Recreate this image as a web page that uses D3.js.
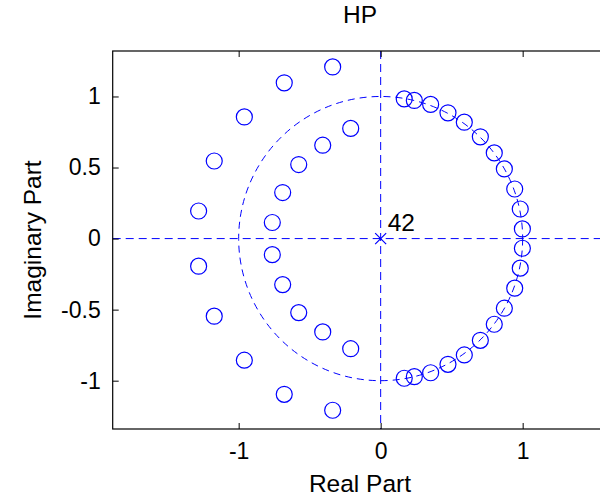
<!DOCTYPE html>
<html>
<head>
<meta charset="utf-8">
<script src="https://cdn.jsdelivr.net/npm/d3@7"></script>
<style>
  body { margin: 0; background: #fff; }
  svg text { font-family: "Liberation Sans", Arial, sans-serif; fill: #000; }
</style>
</head>
<body>
<svg id="chart" width="600" height="497"></svg>
<script>
// zeros in the upper half plane (the lower half are the conjugates)
const zerosRe = [-0.338, -0.679, -0.960, -1.172, -1.282, -0.211, -0.408, -0.577, -0.690, -0.763,
                 0.166, 0.237, 0.352, 0.474, 0.589, 0.702, 0.800, 0.871, 0.944, 0.983, 0.998]
const zerosIm = [1.208, 1.096, 0.856, 0.546, 0.194, 0.775, 0.657, 0.521, 0.324, 0.113,
                 0.983, 0.972, 0.944, 0.885, 0.819, 0.716, 0.603, 0.490, 0.349, 0.208, 0.068]
const polesRe = [0]
const polesIm = [0]
const poleCount = ["42"]
const xTicks = [-1, 0, 1]
const yTicks = [-1, -0.5, 0, 0.5, 1]

const svg = d3.select("#chart")
const rem = 24.5
const blue = "#0000ff"

const plot = {left: 112.7, right: 607.3, top: 51, bottom: 429}

const xScale = d3.scaleLinear().domain([-1.887, 1.596]).range([plot.left, plot.right])
const yScale = d3.scaleLinear().domain([-1.34, 1.32]).range([plot.bottom, plot.top])

svg.append("clipPath").attr("id", "clip")
    .append("rect")
    .attr("x", plot.left).attr("y", plot.top)
    .attr("width", plot.right - plot.left).attr("height", plot.bottom - plot.top)

const g = svg.append("g").attr("clip-path", "url(#clip)")

// dashed axes through the origin
g.append("line")
    .attr("x1", plot.left).attr("x2", plot.right)
    .attr("y1", yScale(0)).attr("y2", yScale(0))
    .attr("stroke", blue).attr("stroke-width", 1).attr("stroke-dasharray", "8,5")
g.append("line")
    .attr("x1", xScale(0)).attr("x2", xScale(0))
    .attr("y1", plot.top).attr("y2", plot.bottom)
    .attr("stroke", blue).attr("stroke-width", 1).attr("stroke-dasharray", "8,5")

// unit circle
g.append("ellipse")
    .attr("cx", xScale(0)).attr("cy", yScale(0))
    .attr("rx", xScale(1) - xScale(0)).attr("ry", yScale(0) - yScale(1))
    .attr("fill", "none").attr("stroke", blue).attr("stroke-width", 1)
    .attr("stroke-dasharray", "7,5")

// zeros and their conjugates
const zeros = zerosRe.flatMap((re, i) => [[re, zerosIm[i]], [re, -zerosIm[i]]])
g.selectAll(".zero").data(zeros).join("circle")
    .attr("class", "zero")
    .attr("cx", d => xScale(d[0])).attr("cy", d => yScale(d[1]))
    .attr("r", 8)
    .attr("fill", "none").attr("stroke", blue).attr("stroke-width", 1.2)

// poles
const poles = polesRe.map((re, i) => [re, polesIm[i], poleCount[i]])
const ps = 5.5
poles.forEach(p => {
    const cx = xScale(p[0]), cy = yScale(p[1])
    g.append("path")
        .attr("d", `M${cx-ps},${cy-ps}L${cx+ps},${cy+ps}M${cx-ps},${cy+ps}L${cx+ps},${cy-ps}`)
        .attr("stroke", blue).attr("stroke-width", 1.2)
    g.append("text")
        .attr("x", cx + 7).attr("y", cy - 8)
        .attr("font-size", rem)
        .text(p[2])
})

// axes with inward ticks
const xAxis = d3.axisBottom(xScale).tickValues(xTicks).tickSize(-6).tickPadding(14).tickFormat(d => String(d))
const yAxis = d3.axisLeft(yScale).tickValues(yTicks).tickSize(-6).tickPadding(12).tickFormat(d => String(d))
const xTop = d3.axisTop(xScale).tickValues(xTicks).tickSize(-6).tickFormat("")
const yRight = d3.axisRight(yScale).tickValues(yTicks).tickSize(-6).tickFormat("")

function styleAxis(sel) {
    sel.select(".domain").remove()
    sel.selectAll("line").attr("stroke", "#000")
    sel.selectAll("text").attr("font-size", 23).attr("font-family", null)
}

svg.append("g").attr("transform", `translate(0,${plot.bottom})`).call(xAxis).call(styleAxis)
svg.append("g").attr("transform", `translate(${plot.left},0)`).call(yAxis).call(styleAxis)
svg.append("g").attr("transform", `translate(0,${plot.top})`).call(xTop).call(styleAxis)
svg.append("g").attr("transform", `translate(${plot.right},0)`).call(yRight).call(styleAxis)

svg.append("rect")
    .attr("x", plot.left).attr("y", plot.top)
    .attr("width", plot.right - plot.left).attr("height", plot.bottom - plot.top)
    .attr("fill", "none").attr("stroke", "#000").attr("stroke-width", 1.2)

// labels
const cx = (plot.left + plot.right) / 2
svg.append("text").attr("x", cx).attr("y", 23)
    .attr("text-anchor", "middle").attr("font-size", rem).text("HP")
svg.append("text").attr("x", cx).attr("y", 492)
    .attr("text-anchor", "middle").attr("font-size", rem).text("Real Part")
svg.append("text")
    .attr("transform", `translate(41,${(plot.top + plot.bottom) / 2}) rotate(-90)`)
    .attr("text-anchor", "middle").attr("font-size", rem).text("Imaginary Part")
</script>
</body>
</html>
